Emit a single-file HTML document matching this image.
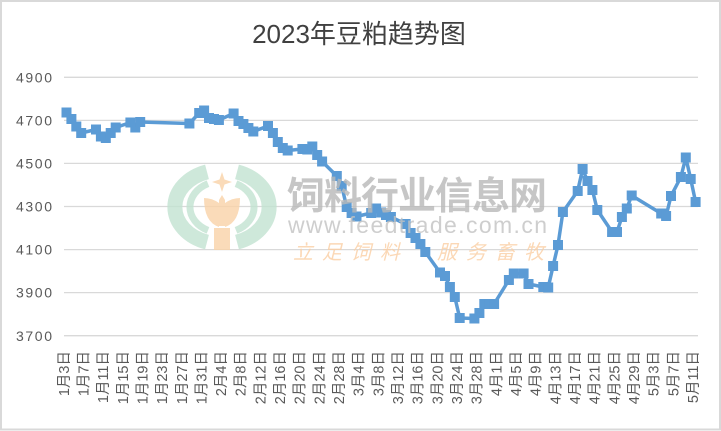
<!DOCTYPE html>
<html><head><meta charset="utf-8"><style>
html,body{margin:0;padding:0;background:#fff;}
svg{display:block;}
text{font-family:"Liberation Sans","Noto Sans CJK SC",sans-serif;}
</style></head><body>
<svg width="721" height="431" viewBox="0 0 721 431" xmlns="http://www.w3.org/2000/svg">
<rect x="0" y="0" width="721" height="431" fill="#fff"/>
<rect x="1" y="1" width="719" height="428.5" fill="none" stroke="#d9d9d9" stroke-width="2"/>
<text x="359" y="43" text-anchor="middle" font-size="26" fill="#404040">2023年豆粕趋势图</text>
<g stroke="#d9d9d9" stroke-width="1.3">
<line x1="64" y1="77.3" x2="698" y2="77.3"/>
<line x1="64" y1="120.4" x2="698" y2="120.4"/>
<line x1="64" y1="163.4" x2="698" y2="163.4"/>
<line x1="64" y1="206.5" x2="698" y2="206.5"/>
<line x1="64" y1="249.6" x2="698" y2="249.6"/>
<line x1="64" y1="292.6" x2="698" y2="292.6"/>
<line x1="64" y1="335.7" x2="698" y2="335.7"/>
</g>
<g font-size="14" fill="#595959" text-anchor="end">
<text x="52" y="82.3" textLength="36">4900</text>
<text x="52" y="125.4" textLength="36">4700</text>
<text x="52" y="168.5" textLength="36">4500</text>
<text x="52" y="211.6" textLength="36">4300</text>
<text x="52" y="254.6" textLength="36">4100</text>
<text x="52" y="297.7" textLength="36">3900</text>
<text x="52" y="340.8" textLength="36">3700</text>
</g>
<g font-size="14.5" fill="#595959" text-anchor="end">
<text transform="translate(68.8,351) rotate(-90)">1月3日</text>
<text transform="translate(88.5,351) rotate(-90)">1月7日</text>
<text transform="translate(108.1,351) rotate(-90)">1月11日</text>
<text transform="translate(127.8,351) rotate(-90)">1月15日</text>
<text transform="translate(147.4,351) rotate(-90)">1月19日</text>
<text transform="translate(167.1,351) rotate(-90)">1月23日</text>
<text transform="translate(186.8,351) rotate(-90)">1月27日</text>
<text transform="translate(206.4,351) rotate(-90)">1月31日</text>
<text transform="translate(226.1,351) rotate(-90)">2月4日</text>
<text transform="translate(245.7,351) rotate(-90)">2月8日</text>
<text transform="translate(265.4,351) rotate(-90)">2月12日</text>
<text transform="translate(285.1,351) rotate(-90)">2月16日</text>
<text transform="translate(304.7,351) rotate(-90)">2月20日</text>
<text transform="translate(324.4,351) rotate(-90)">2月24日</text>
<text transform="translate(344.0,351) rotate(-90)">2月28日</text>
<text transform="translate(363.7,351) rotate(-90)">3月4日</text>
<text transform="translate(383.4,351) rotate(-90)">3月8日</text>
<text transform="translate(403.0,351) rotate(-90)">3月12日</text>
<text transform="translate(422.7,351) rotate(-90)">3月16日</text>
<text transform="translate(442.3,351) rotate(-90)">3月20日</text>
<text transform="translate(462.0,351) rotate(-90)">3月24日</text>
<text transform="translate(481.7,351) rotate(-90)">3月28日</text>
<text transform="translate(501.3,351) rotate(-90)">4月1日</text>
<text transform="translate(521.0,351) rotate(-90)">4月5日</text>
<text transform="translate(540.6,351) rotate(-90)">4月9日</text>
<text transform="translate(560.3,351) rotate(-90)">4月13日</text>
<text transform="translate(580.0,351) rotate(-90)">4月17日</text>
<text transform="translate(599.6,351) rotate(-90)">4月21日</text>
<text transform="translate(619.3,351) rotate(-90)">4月25日</text>
<text transform="translate(638.9,351) rotate(-90)">4月29日</text>
<text transform="translate(658.6,351) rotate(-90)">5月3日</text>
<text transform="translate(678.3,351) rotate(-90)">5月7日</text>
<text transform="translate(697.9,351) rotate(-90)">5月11日</text>
</g>
<polyline fill="none" stroke="#5B9BD5" stroke-width="3.5" stroke-linejoin="round" points="66.5,112.5 71.4,119 76.3,126.5 81.2,133 96.0,129.5 100.9,136.5 105.8,138 110.7,133 115.7,127.5 130.4,122.5 135.3,127.5 140.2,122 189.4,123.5 199.2,113 204.1,110.5 209.0,118 214.0,119 218.9,120 233.6,113.5 238.5,121 243.4,124 248.4,128 253.3,131.5 268.0,126 272.9,133 277.8,142 282.8,148 287.7,150.5 302.4,149 307.3,149.5 312.3,146.5 317.2,155 322.1,161.5 336.8,176 341.7,186 346.7,207 351.6,213 356.5,216.5 371.2,213 376.1,208.5 381.1,212.5 386.0,215 390.9,217 405.6,224 410.6,233 415.5,238 420.4,244 425.3,252 440.0,272.5 445.0,276 449.9,287 454.8,297 459.7,318 474.4,318.5 479.4,313 484.3,304 489.2,304 494.1,304 508.9,280 513.8,273.5 523.6,273.5 528.5,284 543.3,287 548.2,287.5 553.1,266 558.0,245 562.9,212 577.7,191 582.6,169 587.5,181 592.4,190 597.3,210 612.1,232 617.0,232 621.9,217 626.8,208.5 631.7,195.5 661.2,213.5 666.1,216 671.0,196 680.9,177 685.8,157.5 690.7,179 695.6,202"/>
<g fill="#5B9BD5">
<rect x="61.5" y="107.5" width="10" height="10"/><rect x="66.4" y="114" width="10" height="10"/><rect x="71.3" y="121.5" width="10" height="10"/><rect x="76.2" y="128" width="10" height="10"/><rect x="91.0" y="124.5" width="10" height="10"/><rect x="95.9" y="131.5" width="10" height="10"/><rect x="100.8" y="133" width="10" height="10"/><rect x="105.7" y="128" width="10" height="10"/><rect x="110.7" y="122.5" width="10" height="10"/><rect x="125.4" y="117.5" width="10" height="10"/><rect x="130.3" y="122.5" width="10" height="10"/><rect x="135.2" y="117" width="10" height="10"/><rect x="184.4" y="118.5" width="10" height="10"/><rect x="194.2" y="108" width="10" height="10"/><rect x="199.1" y="105.5" width="10" height="10"/><rect x="204.0" y="113" width="10" height="10"/><rect x="209.0" y="114" width="10" height="10"/><rect x="213.9" y="115" width="10" height="10"/><rect x="228.6" y="108.5" width="10" height="10"/><rect x="233.5" y="116" width="10" height="10"/><rect x="238.4" y="119" width="10" height="10"/><rect x="243.4" y="123" width="10" height="10"/><rect x="248.3" y="126.5" width="10" height="10"/><rect x="263.0" y="121" width="10" height="10"/><rect x="267.9" y="128" width="10" height="10"/><rect x="272.8" y="137" width="10" height="10"/><rect x="277.8" y="143" width="10" height="10"/><rect x="282.7" y="145.5" width="10" height="10"/><rect x="297.4" y="144" width="10" height="10"/><rect x="302.3" y="144.5" width="10" height="10"/><rect x="307.3" y="141.5" width="10" height="10"/><rect x="312.2" y="150" width="10" height="10"/><rect x="317.1" y="156.5" width="10" height="10"/><rect x="331.8" y="171" width="10" height="10"/><rect x="336.7" y="181" width="10" height="10"/><rect x="341.7" y="202" width="10" height="10"/><rect x="346.6" y="208" width="10" height="10"/><rect x="351.5" y="211.5" width="10" height="10"/><rect x="366.2" y="208" width="10" height="10"/><rect x="371.1" y="203.5" width="10" height="10"/><rect x="376.1" y="207.5" width="10" height="10"/><rect x="381.0" y="210" width="10" height="10"/><rect x="385.9" y="212" width="10" height="10"/><rect x="400.6" y="219" width="10" height="10"/><rect x="405.6" y="228" width="10" height="10"/><rect x="410.5" y="233" width="10" height="10"/><rect x="415.4" y="239" width="10" height="10"/><rect x="420.3" y="247" width="10" height="10"/><rect x="435.0" y="267.5" width="10" height="10"/><rect x="440.0" y="271" width="10" height="10"/><rect x="444.9" y="282" width="10" height="10"/><rect x="449.8" y="292" width="10" height="10"/><rect x="454.7" y="313" width="10" height="10"/><rect x="469.4" y="313.5" width="10" height="10"/><rect x="474.4" y="308" width="10" height="10"/><rect x="479.3" y="299" width="10" height="10"/><rect x="484.2" y="299" width="10" height="10"/><rect x="489.1" y="299" width="10" height="10"/><rect x="503.9" y="275" width="10" height="10"/><rect x="508.8" y="268.5" width="10" height="10"/><rect x="518.6" y="268.5" width="10" height="10"/><rect x="523.5" y="279" width="10" height="10"/><rect x="538.3" y="282" width="10" height="10"/><rect x="543.2" y="282.5" width="10" height="10"/><rect x="548.1" y="261" width="10" height="10"/><rect x="553.0" y="240" width="10" height="10"/><rect x="557.9" y="207" width="10" height="10"/><rect x="572.7" y="186" width="10" height="10"/><rect x="577.6" y="164" width="10" height="10"/><rect x="582.5" y="176" width="10" height="10"/><rect x="587.4" y="185" width="10" height="10"/><rect x="592.3" y="205" width="10" height="10"/><rect x="607.1" y="227" width="10" height="10"/><rect x="612.0" y="227" width="10" height="10"/><rect x="616.9" y="212" width="10" height="10"/><rect x="621.8" y="203.5" width="10" height="10"/><rect x="626.7" y="190.5" width="10" height="10"/><rect x="656.2" y="208.5" width="10" height="10"/><rect x="661.1" y="211" width="10" height="10"/><rect x="666.0" y="191" width="10" height="10"/><rect x="675.9" y="172" width="10" height="10"/><rect x="680.8" y="152.5" width="10" height="10"/><rect x="685.7" y="174" width="10" height="10"/><rect x="690.6" y="197" width="10" height="10"/>
</g>
<!-- watermark -->
<g opacity="0.8">
<g fill="none" stroke="#c2e3d1">
<path d="M207,171.9 A47,37 0 0 0 207,242.1" stroke-width="15"/>
<path d="M237,171.9 A47,37 0 0 1 237,242.1" stroke-width="15"/>
<path d="M208,183.6 A32,26 0 0 0 208,230.4" stroke-width="7"/>
<path d="M236,183.6 A32,26 0 0 1 236,230.4" stroke-width="7"/>
</g>
<g fill="#fad3a8">
<path d="M222,172 L224.5,179.5 L232,182 L224.5,184.5 L222,192 L219.5,184.5 L212,182 L219.5,179.5 Z"/>
<path d="M204,198 Q204,222 219,227 L219,203 Q212,198 204,198 Z"/>
<path d="M240,198 Q240,222 225,227 L225,203 Q232,198 240,198 Z"/>
<path d="M219,200 L222,195 L225,200 L225,226 L219,226 Z"/>
<rect x="214" y="228" width="16" height="22"/>
</g>
<text x="287" y="209" font-size="38" fill="#b9b9b9" textLength="260" font-weight="bold" font-family="'Noto Sans CJK SC',sans-serif">饲料行业信息网</text>
<text x="288" y="233" font-size="23" fill="#c2c2c2" textLength="259">www.feedtrade.com.cn</text>
<text x="293" y="259" font-size="20" fill="#fbcfa4" font-style="italic" textLength="107">立足饲料</text>
<text x="437" y="259" font-size="20" fill="#fbcfa4" font-style="italic" textLength="107">服务畜牧</text>
</g>
</svg>
</body></html>
